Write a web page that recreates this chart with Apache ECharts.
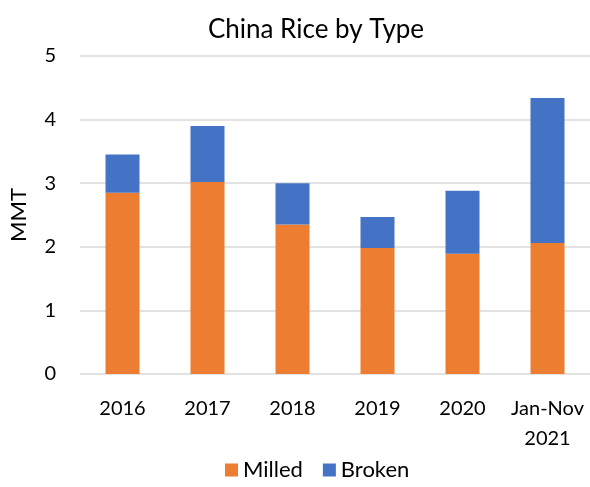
<!DOCTYPE html>
<html>
<head>
<meta charset="utf-8">
<script src="https://cdn.jsdelivr.net/npm/echarts@6/dist/echarts.min.js"></script>
<style>
html,body{margin:0;padding:0;background:#fff;}
#main{width:590px;height:487px;}
</style>
</head>
<body>
<div id="main"></div>
<script>
// 类别与数据
var categories = ['2016', '2017', '2018', '2019', '2020', 'Jan-Nov\n2021'];
var milled = [2.85, 3.02, 2.35, 1.98, 1.89, 2.06];
var broken = [0.60, 0.88, 0.65, 0.49, 0.99, 2.28];
var yTicks = [0, 1, 2, 3, 4, 5];

var font = 'Lato, "Open Sans", sans-serif';
var chart = echarts.init(document.getElementById('main'));
chart.setOption({
    animation: false,
    title: {
        text: 'China Rice by Type',
        left: 311,
        textAlign: 'center',
        top: 12,
        textStyle: { fontFamily: font, fontSize: 26, fontWeight: 'normal', color: '#000' }
    },
    legend: {
        bottom: 1,
        left: 220,
        itemWidth: 13,
        itemHeight: 13,
        itemGap: 20,
        icon: 'rect',
        textStyle: { fontFamily: font, fontSize: 22, color: '#000' },
        data: ['Milled', 'Broken']
    },
    grid: { left: 77, right: 0, top: 56, bottom: 113 },
    xAxis: {
        type: 'category',
        data: categories,
        axisLine: { show: false },
        axisTick: { show: false },
        axisLabel: { interval: 0, fontFamily: font, fontSize: 20, color: '#000', margin: 20, lineHeight: 30 }
    },
    yAxis: {
        type: 'value',
        min: yTicks[0],
        max: yTicks[yTicks.length - 1],
        interval: 1,
        name: 'MMT',
        nameLocation: 'middle',
        nameGap: 50,
        nameTextStyle: { fontFamily: font, fontSize: 22, color: '#000' },
        axisLabel: { fontFamily: font, fontSize: 20, color: '#000', margin: 24 },
        splitLine: { lineStyle: { color: '#d9d9d9', width: 1.5 } }
    },
    series: [
        {
            name: 'Milled',
            type: 'bar',
            stack: 'total',
            barWidth: '40%',
            itemStyle: { color: '#ED7D31' },
            data: milled
        },
        {
            name: 'Broken',
            type: 'bar',
            stack: 'total',
            barWidth: '40%',
            itemStyle: { color: '#4472C4' },
            data: broken
        }
    ]
});
</script>
</body>
</html>
